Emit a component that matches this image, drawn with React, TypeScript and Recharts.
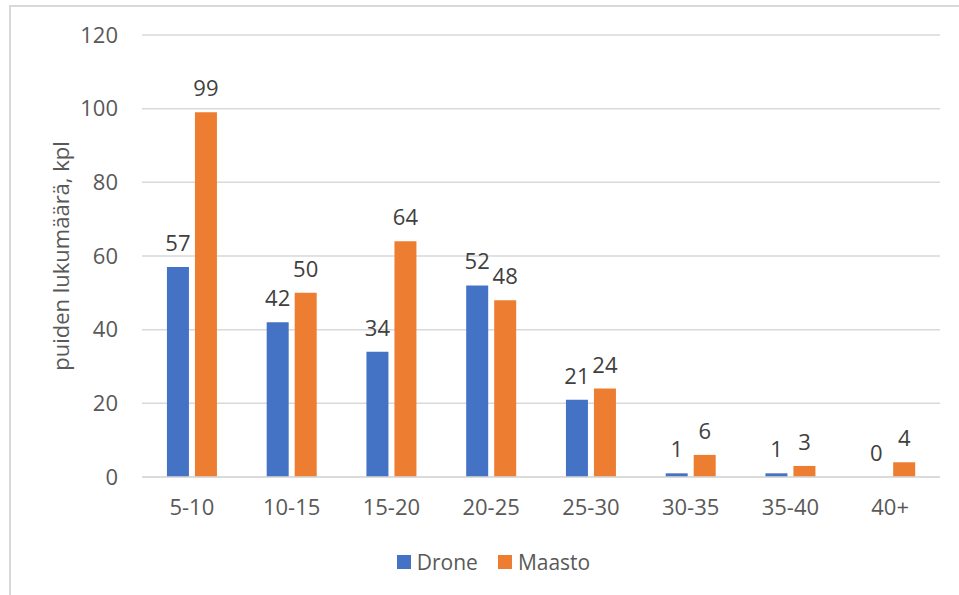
import React from 'react';
import {
  BarChart,
  Bar,
  XAxis,
  YAxis,
  CartesianGrid,
  Legend,
  LabelList,
  Label,
} from 'recharts';

const classes = ['5-10', '10-15', '15-20', '20-25', '25-30', '30-35', '35-40', '40+'];
const drone = [57, 42, 34, 52, 21, 1, 1, 0];
const maasto = [99, 50, 64, 48, 24, 6, 3, 4];
const yTicks = [0, 20, 40, 60, 80, 100, 120];

const FONT = '"Open Sans", "Noto Sans", sans-serif';
const BLUE = '#4472C4';
const ORANGE = '#ED7D31';
const TEXT = '#595959';
const FS = 22;

const chartData = classes.map((c, i) => ({
  name: c,
  Drone: drone[i],
  Maasto: maasto[i],
}));

// zero-height bars get dropped along with their label, so give them a hair of height
const keepZero = (value: any) => (Number(value) === 0 ? 0.01 : 0);

// value text above each bar
const ValueLabel = (props: any) => {
  const { x, y, width, value } = props;
  if (value === undefined || value === null) return null;
  return (
    <text
      x={Number(x) + Number(width) / 2}
      y={Number(y) - 16}
      textAnchor="middle"
      fill="#404040"
      fontSize={FS}
      fontFamily={FONT}
    >
      {String(value)}
    </text>
  );
};

const LegendContent = () => (
  <div
    style={{
      display: 'flex',
      justifyContent: 'center',
      alignItems: 'center',
      height: 30,
      fontFamily: FONT,
      fontSize: 21,
      color: TEXT,
      paddingLeft: 47,
    }}
  >
    {[
      { label: 'Drone', color: BLUE },
      { label: 'Maasto', color: ORANGE },
    ].map((item) => (
      <span key={item.label} style={{ display: 'flex', alignItems: 'center', margin: '0 10px' }}>
        <span
          style={{
            display: 'inline-block',
            width: 14,
            height: 14,
            background: item.color,
            marginRight: 6,
          }}
        />
        {item.label}
      </span>
    ))}
  </div>
);

export default function App() {
  return (
    <div style={{ position: 'fixed', left: 0, top: 0, width: 959, height: 595, background: '#fff', overflow: 'hidden' }}>
      {/* chart frame: only top and left edges fall inside the page */}
      <div
        style={{
          position: 'absolute',
          left: 9,
          top: 5,
          width: 1000,
          height: 700,
          borderTop: '2px solid #d9d9d9',
          borderLeft: '2px solid #d9d9d9',
        }}
      />
      <div style={{ position: 'absolute', left: 0, top: 0 }}>
        <BarChart
          width={959}
          height={595}
          data={chartData}
          margin={{ top: 35, right: 19, left: 0, bottom: 18 }}
          barCategoryGap="25%"
          barGap={6}
        >
          <CartesianGrid vertical={false} stroke="#d9d9d9" strokeWidth={1.5} />
          <XAxis
            dataKey="name"
            axisLine={{ stroke: '#d9d9d9', strokeWidth: 1.5 }}
            tickLine={false}
            height={70}
            tickMargin={16}
            tick={{ fill: TEXT, fontSize: FS, fontFamily: FONT }}
          />
          <YAxis
            width={142}
            domain={[0, 120]}
            ticks={yTicks}
            axisLine={false}
            tickLine={false}
            tickMargin={18}
            tick={{ fill: TEXT, fontSize: FS, fontFamily: FONT }}
          >
            <Label
              content={(props: any) => {
                const vb = props.viewBox;
                const cy = vb.y + vb.height / 2;
                return (
                  <text
                    x={60}
                    y={cy}
                    transform={`rotate(-90 60 ${cy})`}
                    textAnchor="middle"
                    dominantBaseline="central"
                    fill={TEXT}
                    fontSize={FS}
                    fontFamily={FONT}
                  >
                    puiden lukumäärä, kpl
                  </text>
                );
              }}
            />
          </YAxis>
          <Legend verticalAlign="bottom" height={30} content={<LegendContent />} />
          <Bar dataKey="Drone" fill={BLUE} minPointSize={keepZero} isAnimationActive={false}>
            <LabelList dataKey="Drone" content={<ValueLabel />} />
          </Bar>
          <Bar dataKey="Maasto" fill={ORANGE} isAnimationActive={false}>
            <LabelList dataKey="Maasto" content={<ValueLabel />} />
          </Bar>
        </BarChart>
      </div>
    </div>
  );
}
